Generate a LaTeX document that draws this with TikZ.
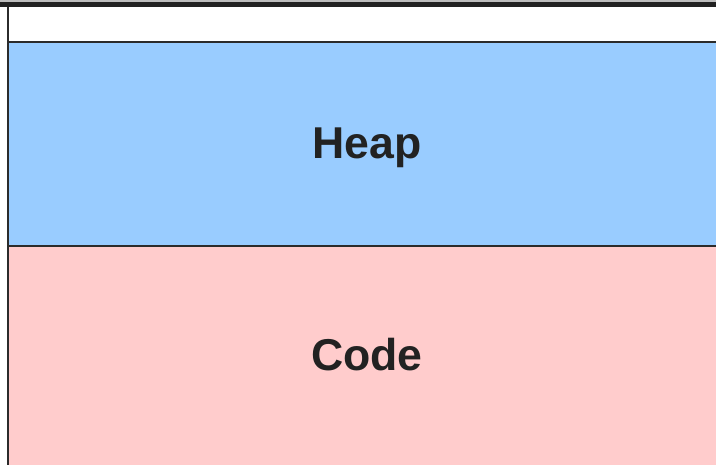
\documentclass[tikz,border=0pt]{standalone}
\usepackage{fontspec}
\setmainfont{Liberation Sans}
\definecolor{heapblue}{HTML}{99CCFF}
\definecolor{codepink}{HTML}{FFCCCC}
\definecolor{edge}{HTML}{2B2B2B}
\definecolor{ink}{HTML}{222222}
\definecolor{topgray}{HTML}{BDBDBD}
\begin{document}
\begin{tikzpicture}[x=1pt,y=-1pt,
  region/.style={draw=edge,line width=2pt,anchor=north west,inner sep=0pt,outer sep=0pt},
  label text/.style={font=\bfseries\fontsize{44.6}{50}\selectfont,text=ink,anchor=base},
  ]
  \useasboundingbox (0,0) rectangle (716,464);
  \fill[white] (0,0) rectangle (716,464);
  % memory segments
  \node[region,fill=white,minimum width=720pt,minimum height=36pt] (top) at (8,6) {};
  \node[region,fill=heapblue,minimum width=720pt,minimum height=204pt] (heap) at (top.south west) {};
  \node[region,fill=codepink,minimum width=720pt,minimum height=230pt] (code) at (heap.south west) {};
  \node[label text] (heaplabel) at (367,158) {Heap};
  \node[label text] (codelabel) at (367,370) {Code};
  % top rule
  \fill[topgray] (0,0) rectangle (716,2);
  \fill[ink] (0,2) rectangle (716,7);
\end{tikzpicture}
\end{document}
